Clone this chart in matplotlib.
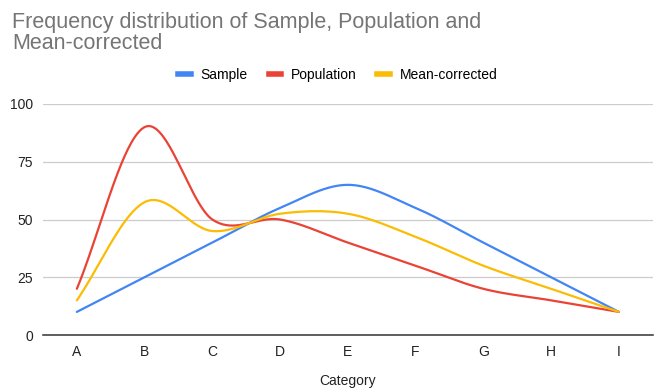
import numpy as np
import matplotlib.pyplot as plt
from matplotlib.lines import Line2D

categories = ["A", "B", "C", "D", "E", "F", "G", "H", "I"]
sample = [10, 25, 40, 55, 65, 55, 40, 25, 10]
population = [20, 90, 50, 50, 40, 30, 20, 15, 10]
mean_corrected = [15, 57.5, 45, 52.5, 52.5, 42.5, 30, 20, 10]

series = [
    ("Sample", sample, "#4285F4"),
    ("Population", population, "#EA4335"),
    ("Mean-corrected", mean_corrected, "#FBBC04"),
]

plt.rcParams['font.family'] = ['Liberation Sans', 'DejaVu Sans']


def smooth(values, steps=40):
    # cubic hermite through each point, catmull-rom tangents
    y = np.asarray(values, dtype=float)
    n = len(y)
    m = np.zeros(n)
    m[1:-1] = (y[2:] - y[:-2]) / 2
    m[0] = y[1] - y[0]
    m[-1] = y[-1] - y[-2]
    xs, ys = [], []
    for i in range(n - 1):
        t = np.linspace(0, 1, steps, endpoint=(i == n - 2))
        h00 = 2 * t**3 - 3 * t**2 + 1
        h10 = t**3 - 2 * t**2 + t
        h01 = -2 * t**3 + 3 * t**2
        h11 = t**3 - t**2
        xs.append(i + t)
        ys.append(h00 * y[i] + h10 * m[i] + h01 * y[i + 1] + h11 * m[i + 1])
    return np.concatenate(xs), np.concatenate(ys)


fig = plt.figure(figsize=(6.56, 3.92), dpi=100)
ax = fig.add_axes([0.0655, 0.1454, 0.9295, 0.5893])

for name, vals, color in series:
    sx, sy = smooth(vals)
    ax.plot(sx, sy, color=color, lw=1.6, solid_capstyle='round', zorder=3)

ax.set_xlim(-0.5, len(categories) - 0.5)
ax.set_ylim(0, 100)
ax.set_yticks([0, 25, 50, 75, 100])
ax.set_xticks(range(len(categories)))
ax.set_xticklabels(categories)
ax.tick_params(length=0, labelsize=10, colors='#222222')
ax.tick_params(axis='x', pad=7)
ax.tick_params(axis='y', pad=7)
ax.grid(axis='y', color='#cccccc', lw=0.9)
ax.set_axisbelow(True)
for side in ['top', 'right', 'left']:
    ax.spines[side].set_visible(False)
ax.spines['bottom'].set_color('#333333')
ax.spines['bottom'].set_linewidth(1.1)
ax.set_xlabel("Category", fontsize=10, color='#222222', labelpad=11)

fig.text(0.018, 0.97, "Frequency distribution of Sample, Population and\nMean-corrected",
         fontsize=15.5, color='#757575', va='top', ha='left', linespacing=1.0)

handles = [Line2D([], [], color=c, lw=4) for _, _, c in series]
fig.legend(handles, [s[0] for s in series], loc='center', bbox_to_anchor=(0.515, 0.809),
           ncol=3, frameon=False, fontsize=10, handlelength=0.9, handletextpad=0.7,
           columnspacing=1.5)

fig.savefig("out.png", dpi=100)
